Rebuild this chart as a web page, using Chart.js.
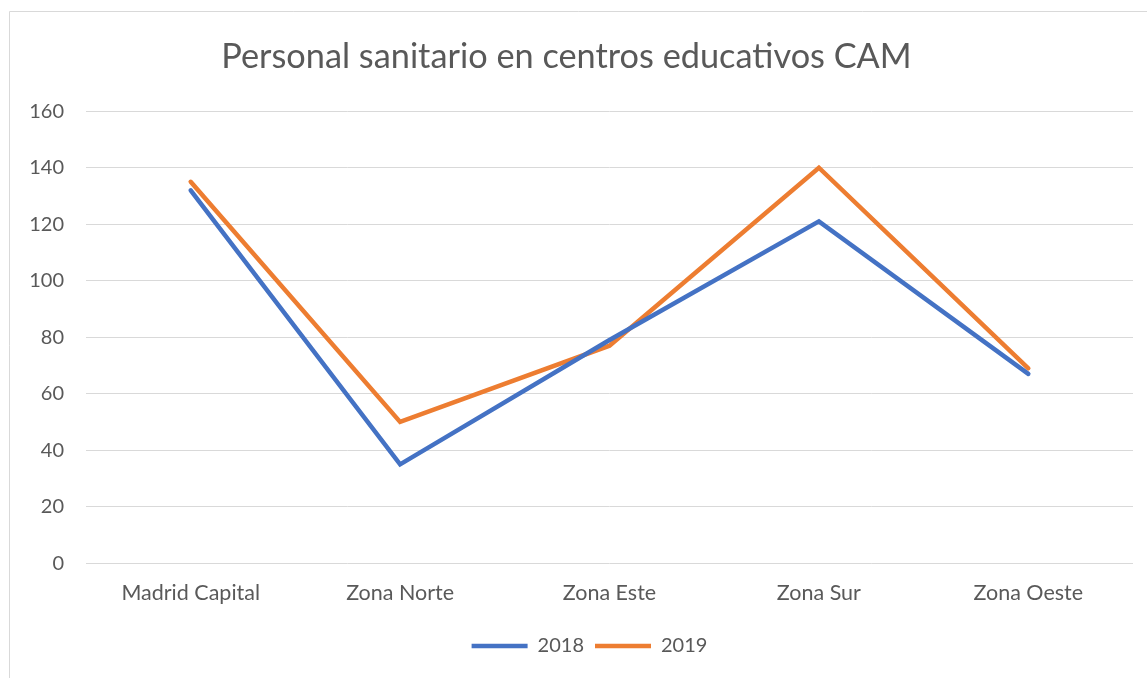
<!DOCTYPE html>
<html>
<head>
<meta charset="utf-8">
<script src="https://cdn.jsdelivr.net/npm/chart.js@4.4.1/dist/chart.umd.min.js"></script>
<style>
  html, body { margin: 0; padding: 0; background: #fff; }
  #wrap { width: 1147px; height: 678px; position: relative; }
</style>
</head>
<body>
<div id="wrap"><canvas id="lineChart" width="1147" height="678"></canvas></div>
<script>
// Zone della Comunidad de Madrid
const categories = ["Madrid Capital", "Zona Norte", "Zona Este", "Zona Sur", "Zona Oeste"];
const values2018 = [132, 35, 79, 121, 67];
const values2019 = [135, 50, 77, 140, 69];
const yTicks = [0, 20, 40, 60, 80, 100, 120, 140, 160];

const textColor = "#595959";
const gridColor = "#d9d9d9";
const fontFamily = "Lato, 'Open Sans', sans-serif";

// cornice esterna del grafico (tagliata a destra e in basso)
const framePlugin = {
    id: "frame",
    beforeDraw(chart) {
        const ctx = chart.ctx;
        ctx.save();
        ctx.strokeStyle = gridColor;
        ctx.lineWidth = 1;
        ctx.beginPath();
        ctx.moveTo(9.5, 700);
        ctx.lineTo(9.5, 11.5);
        ctx.lineTo(1147, 11.5);
        ctx.stroke();
        ctx.restore();
    },
    // sposta un po' la legenda come nell'originale
    afterLayout(chart) {
        const lg = chart.legend;
        lg.left += 23;
        lg.right += 23;
        lg.top += 2;
        lg.bottom += 2;
    },
};

const ctx = document.getElementById("lineChart").getContext("2d");
const chart = new Chart(ctx, {
    type: "line",
    data: {
        labels: categories,
        datasets: [
            {
                label: "2018",
                data: values2018,
                borderColor: "#4472C4",
                backgroundColor: "#4472C4",
                borderWidth: 4.5,
                borderCapStyle: "round",
                pointRadius: 0,
                pointHoverRadius: 0,
                pointStyle: "line",
                tension: 0,
                fill: false,
            },
            {
                label: "2019",
                data: values2019,
                borderColor: "#ED7D31",
                backgroundColor: "#ED7D31",
                borderWidth: 4.5,
                borderCapStyle: "round",
                pointRadius: 0,
                pointHoverRadius: 0,
                pointStyle: "line",
                tension: 0,
                fill: false,
            },
        ],
    },
    options: {
        responsive: false,
        animation: false,
        layout: { padding: { left: 0, right: 14, top: 0, bottom: 14 } },
        plugins: {
            title: {
                display: true,
                text: "Personal sanitario en centros educativos CAM",
                color: textColor,
                font: { family: fontFamily, size: 34.3, weight: "normal" },
                padding: { top: 36, bottom: 34 },
            },
            legend: {
                position: "bottom",
                labels: {
                    color: textColor,
                    font: { family: fontFamily, size: 20 },
                    usePointStyle: true,
                    pointStyleWidth: 56,
                    boxHeight: 20,
                    padding: 11,
                },
            },
            tooltip: { enabled: false },
        },
        scales: {
            x: {
                offset: true,
                grid: { display: false, drawTicks: false },
                border: { display: false },
                ticks: {
                    color: textColor,
                    font: { family: fontFamily, size: 21.5 },
                    padding: 17,
                    maxRotation: 0,
                },
            },
            y: {
                min: 0,
                max: 160,
                afterBuildTicks(scale) {
                    scale.ticks = yTicks.map((v) => ({ value: v }));
                },
                afterFit(scale) {
                    scale.width = 86;
                },
                grid: { color: gridColor, lineWidth: 1, drawTicks: false },
                border: { display: false },
                ticks: {
                    color: textColor,
                    font: { family: fontFamily, size: 20 },
                    padding: 22,
                },
            },
        },
    },
    plugins: [framePlugin],
});
</script>
</body>
</html>
